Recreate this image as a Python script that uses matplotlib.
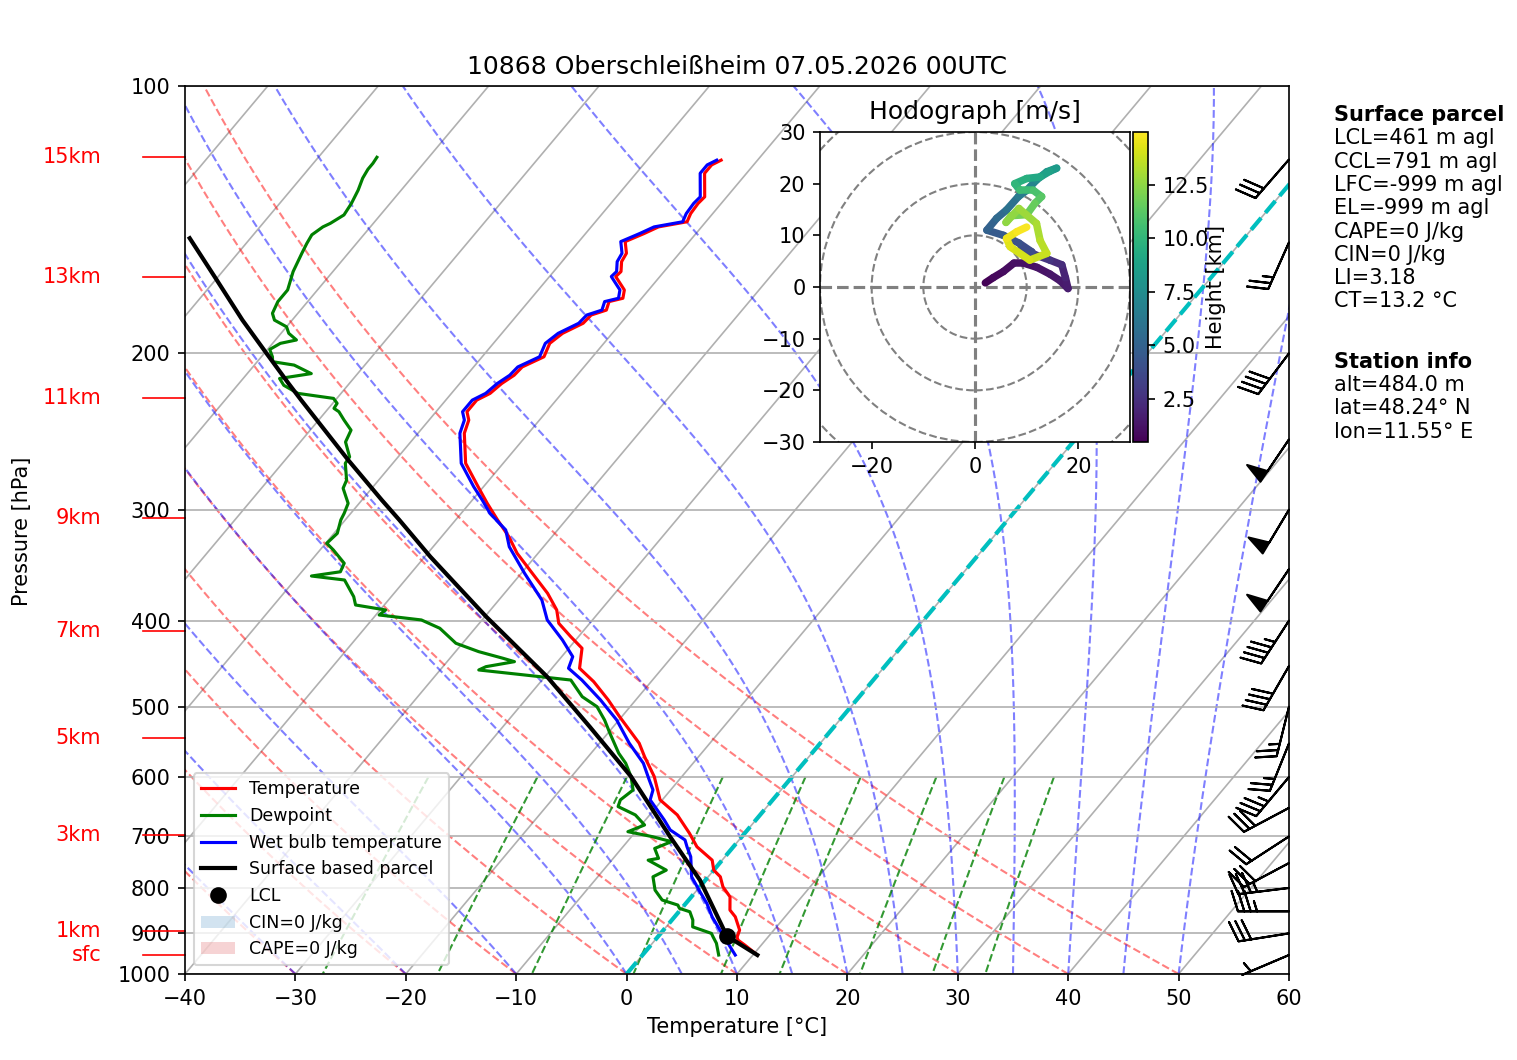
import numpy as np
import matplotlib
matplotlib.use("Agg")
import matplotlib.pyplot as plt
import matplotlib.transforms as mtransforms
from matplotlib.collections import LineCollection
from matplotlib.patches import Patch, Circle
from matplotlib.ticker import FixedLocator, NullLocator, FuncFormatter

# --- sounding (hPa, degC) ---
p_temp = [121.2, 122.7, 125.4, 133.3, 135.6, 139.2, 142.2, 144.1, 146.6, 149.7,
          154.3, 157.7, 161.8, 163.9, 169.7, 173.4, 174.9, 178.8, 181.1, 185.0,
          189.9, 194.9, 201.8, 207.2, 211.7, 216.3, 221.9, 225.8, 232.7, 237.8,
          246.1, 266.0, 282.6, 295.1, 308.1, 321.8, 335.9, 353.8, 372.6, 389.1,
          402.8, 417.0, 429.7, 452.6, 468.6, 491.3, 513.1, 549.7, 569.1, 599.4,
          636.7, 662.0, 694.3, 719.0, 744.4, 763.9, 777.2, 797.7, 818.6, 847.2,
          862.2, 892.4, 908.6, 915.7, 927.6, 952.0]
temp = [-53.3, -53.8, -53.8, -52.0, -52.1, -52.0, -51.7, -53.9, -54.7, -55.8,
        -54.8, -54.6, -53.9, -54.0, -52.2, -51.7, -52.7, -52.3, -53.3, -53.4,
        -54.5, -54.9, -54.4, -55.6, -55.7, -56.2, -56.5, -57.2, -57.2, -56.4,
        -55.8, -53.4, -50.5, -48.4, -46.2, -43.9, -41.9, -39.0, -36.1, -34.0,
        -32.8, -30.7, -28.8, -27.5, -25.2, -22.5, -20.2, -16.4, -14.9, -12.5,
        -10.2, -7.5, -5.0, -3.3, -0.9, 0.0, 1.1, 2.1, 3.5, 4.5,
        5.5, 6.9, 7.2, 7.5, 8.5, 10.4]

p_dew = [120.3, 122.2, 124.1, 127.0, 131.0, 135.6, 139.7, 142.8, 144.1, 147.1,
         150.4, 154.3, 161.8, 169.7, 174.9, 180.3, 183.5, 186.7, 189.9, 193.2,
         194.9, 198.0, 201.8, 204.4, 206.2, 210.8, 213.5, 217.3, 221.9, 224.8,
         227.7, 230.7, 232.7, 237.8, 244.1, 251.7, 261.6, 266.0, 277.9, 283.8,
         295.1, 302.8, 308.1, 319.0, 327.3, 333.0, 344.7, 352.4, 356.3, 360.0,
         375.9, 384.1, 389.1, 394.2, 399.3, 408.0, 424.2, 433.5, 441.0, 444.9,
         450.7, 454.6, 466.6, 487.2, 500.0, 517.6, 535.8, 564.1, 579.0, 599.4,
         620.5, 636.7, 647.8, 662.0, 679.5, 691.4, 700.4, 709.5, 722.1, 740.9,
         744.4, 763.9, 777.2, 804.5, 825.5, 836.3, 843.5, 851.0, 869.5, 884.9,
         900.1, 908.0, 923.4, 952.0]
dewp = [-84.7, -84.6, -84.6, -84.4, -83.9, -83.5, -83.3, -83.9, -84.3, -84.7,
        -84.5, -84.2, -83.6, -82.7, -82.7, -82.3, -81.6, -80.0, -79.3, -78.1,
        -79.3, -79.8, -79.0, -78.6, -76.4, -74.2, -76.7, -75.8, -73.9, -70.3,
        -69.6, -69.5, -68.8, -67.7, -66.3, -65.9, -64.4, -64.3, -62.9, -62.6,
        -61.0, -60.6, -60.4, -59.7, -59.9, -58.8, -56.8, -56.5, -58.8, -55.5,
        -53.4, -52.6, -49.5, -49.7, -45.5, -43.2, -40.6, -37.9, -35.2, -33.9,
        -36.1, -36.5, -27.4, -25.1, -23.0, -21.3, -19.8, -17.5, -16.1, -14.6,
        -13.4, -13.8, -13.5, -11.3, -9.7, -10.7, -8.1, -6.0, -7.0, -5.9,
        -6.7, -4.3, -5.0, -3.8, -2.4, -0.6, -0.2, 1.0, 1.9, 2.4,
        4.6, 5.0, 5.8, 6.9]

p_wet = [121.2, 122.7, 125.4, 133.3, 135.6, 139.2, 142.2, 144.1, 146.6, 149.7,
         154.3, 157.7, 161.8, 163.9, 169.7, 173.4, 174.9, 178.8, 181.1, 185.0,
         189.9, 194.9, 201.8, 207.2, 211.7, 216.3, 221.9, 225.8, 232.7, 237.8,
         246.1, 266.0, 282.6, 292.6, 302.8, 316.2, 330.3, 353.8, 379.2, 399.3,
         420.6, 439.2, 452.6, 466.6, 491.3, 517.6, 549.7, 579.0, 604.6, 620.5,
         636.7, 670.7, 688.3, 706.4, 719.0, 737.9, 777.2, 811.3, 832.6, 862.2,
         884.9, 931.7, 952.0]
wetbulb = [-53.7, -54.2, -54.2, -52.4, -52.5, -52.4, -52.1, -54.3, -55.1, -56.2,
           -55.2, -55.0, -54.3, -54.4, -52.6, -52.1, -53.1, -52.7, -53.7, -53.8,
           -54.9, -55.3, -54.8, -56.0, -56.1, -56.6, -56.9, -57.6, -57.6, -56.8,
           -56.2, -53.8, -50.9, -49.1, -47.4, -44.7, -43.1, -39.7, -36.1, -34.1,
           -31.2, -29.0, -28.5, -26.4, -23.2, -20.2, -17.3, -14.5, -12.7, -11.6,
           -11.1, -8.3, -7.0, -4.9, -4.2, -3.1, -1.5, 0.6, 1.9, 3.4,
           4.7, 7.3, 8.4]

p_parcel = [148.4, 165.3, 183.5, 200.0, 216.3, 225.8, 263.7, 292.6, 308.1, 338.9,
            395.8, 462.6, 527.0, 599.4, 700.4, 783.8, 906.3, 952.0]
t_parcel = [-95.5, -89.9, -84.5, -79.8, -75.5, -73.1, -64.3, -58.2, -55.1, -49.5,
            -39.9, -29.8, -22.1, -14.6, -6.5, -0.5, 6.2, 10.4]
p_lcl, t_lcl = 906.3, 6.2

# wind barbs (kt, direction from)
p_barb = [952, 900, 850, 800, 750, 700, 650, 600, 550, 500,
          450, 400, 350, 300, 250, 200, 150, 121]
spd_kt = [5, 30, 35, 35, 30, 20, 30, 35, 25, 25,
          40, 45, 50, 50, 50, 40, 25, 30]
dir_deg = [247, 261, 270, 263, 242, 237, 242, 220, 202, 194,
           210, 213, 214, 211, 214, 217, 204, 221]

# hodograph (km MSL, m/s)
h_km = [0.48, 0.7, 0.9, 1.0, 1.1, 1.2, 1.3, 1.4, 1.5, 1.8, 2.1, 2.5, 2.9, 3.3,
        3.7, 4.0, 4.4, 4.8, 5.2, 5.7, 6.2, 6.7, 7.2, 7.7, 8.2, 8.6, 9.0, 9.4,
        9.8, 10.2, 10.6, 11.0, 11.4, 11.8, 12.1, 12.4, 12.7, 13.0, 13.3, 13.6,
        13.9, 14.2, 14.5, 14.75, 14.98]
u_ms = [2.0, 3.5, 5.5, 7.5, 9.5, 12.0, 14.5, 16.5, 18.0, 17.5, 16.8, 14.5, 11.5, 9.0,
        11.0, 8.5, 5.5, 2.3, 4.2, 6.1, 8.4, 10.0, 11.9, 13.9, 15.8, 14.5, 12.6, 10.0,
        7.7, 8.7, 11.3, 12.9, 11.6, 10.0, 7.0, 6.0, 8.5, 11.9, 12.6, 13.9,
        10.6, 6.8, 6.1, 8.1, 10.0]
v_ms = [0.8, 1.8, 3.0, 4.6, 4.6, 3.8, 2.5, 1.2, -0.3, 1.8, 4.3, 5.2, 6.3, 7.6,
        6.8, 8.5, 10.0, 11.0, 13.3, 14.9, 17.5, 18.7, 20.7, 22.3, 23.0, 22.4, 21.3, 21.0,
        20.0, 18.7, 18.7, 17.5, 16.2, 14.0, 13.8, 12.5, 15.2, 12.3, 9.0, 6.5,
        5.2, 7.8, 9.4, 10.7, 11.6]

km_labels = ["15km", "13km", "11km", "9km", "7km", "5km", "3km", "1km", "sfc"]
km_press = [120.3, 164.0, 224.5, 306.5, 410.5, 542.0, 698.0, 894.5, 952.0]

parcel_info = ["LCL=461 m agl", "CCL=791 m agl", "LFC=-999 m agl", "EL=-999 m agl",
               "CAPE=0 J/kg", "CIN=0 J/kg", "LI=3.18", "CT=13.2 °C"]
station_info = ["alt=484.0 m", "lat=48.24° N", "lon=11.55° E"]

SKEW = 67.5  # degC shift per decade of pressure
RD, CP, LV, EPS = 287.04749, 1004.6662, 2.50084e6, 0.62196


def skx(t, p):
    return np.asarray(t, float) + SKEW * np.log10(1000.0 / np.asarray(p, float))


def _dtdp(t, p):
    es = 6.112 * np.exp(17.67 * (t - 273.15) / (t - 29.65))
    rs = EPS * es / (p - es)
    return (RD * t + LV * rs) / (CP + LV * LV * rs * EPS / (RD * t * t)) / p


def moist_adiabats(t0, pres):
    t = np.asarray(t0, float) + 273.15
    out = [t.copy()]
    for p0, p1 in zip(pres[:-1], pres[1:]):
        h = p1 - p0
        k1 = _dtdp(t, p0)
        k2 = _dtdp(t + 0.5 * h * k1, p0 + 0.5 * h)
        k3 = _dtdp(t + 0.5 * h * k2, p0 + 0.5 * h)
        k4 = _dtdp(t + h * k3, p1)
        t = t + h * (k1 + 2 * k2 + 2 * k3 + k4) / 6
        out.append(t.copy())
    return np.array(out) - 273.15


W, H = 1517, 1060
fig = plt.figure(figsize=(W / 150, H / 150), dpi=150)
ax = fig.add_axes([185 / W, 1 - 974 / H, 1104 / W, 888 / H])
ax.set_yscale("log")
ax.set_ylim(1000, 100)
ax.set_xlim(-40, 60)
ax.yaxis.set_major_locator(FixedLocator(np.arange(100, 1001, 100)))
ax.yaxis.set_minor_locator(NullLocator())
ax.yaxis.set_major_formatter(FuncFormatter(lambda v, _: f"{v:.0f}"))
ax.set_xticks(np.arange(-40, 61, 10))
ax.yaxis.grid(True, color="#b0b0b0", lw=0.8)

# background lines
pb = np.logspace(3, 2, 181)
for t in np.arange(-120, 61, 10):
    ax.plot(skx([t, t], [1000, 100]), [1000, 100], color="#b0b0b0", lw=0.8, zorder=0.8)
for t0 in np.arange(-40, 51, 10):
    td = (t0 + 273.15) * (pb / 1000.0) ** (RD / CP) - 273.15
    ax.plot(skx(td, pb), pb, color="r", ls="--", lw=1, alpha=0.5, zorder=1)
t0m = np.concatenate((np.arange(-40, 0, 10), np.arange(0, 51, 5)))
tm = moist_adiabats(t0m, pb)
for i in range(len(t0m)):
    ax.plot(skx(tm[:, i], pb), pb, color="b", ls="--", lw=1, alpha=0.5, zorder=1)
pm = np.linspace(600, 1000, 50)
for w in [0.0004, 0.001, 0.002, 0.004, 0.007, 0.01, 0.016, 0.024, 0.032]:
    e = pm * w / (EPS + w)
    le = np.log(e / 6.112)
    tdw = 243.5 * le / (17.67 - le)
    ax.plot(skx(tdw, pm), pm, color="g", ls="--", lw=1, alpha=0.8, zorder=1)
ax.plot(skx([0, 0], [1000, 100]), [1000, 100], color="c", ls="--", lw=2, zorder=1.2)

# profiles
l1, = ax.plot(skx(temp, p_temp), p_temp, color="r", lw=1.5, label="Temperature", zorder=3)
l2, = ax.plot(skx(dewp, p_dew), p_dew, color="g", lw=1.5, label="Dewpoint", zorder=3)
l3, = ax.plot(skx(wetbulb, p_wet), p_wet, color="b", lw=1.5, label="Wet bulb temperature", zorder=3)
l4, = ax.plot(skx(t_parcel, p_parcel), p_parcel, color="k", lw=2, label="Surface based parcel", zorder=3.5)
l5, = ax.plot(skx([t_lcl], [p_lcl]), [p_lcl], "ko", ms=7, label="LCL", zorder=4)
cin = Patch(facecolor="tab:blue", alpha=0.2, label="CIN=0 J/kg")
cape = Patch(facecolor="tab:red", alpha=0.2, label="CAPE=0 J/kg")
ax.legend(handles=[l1, l2, l3, l4, l5, cin, cape], loc="lower left", fontsize="small")

# barbs on right edge
bt = mtransforms.blended_transform_factory(ax.transAxes, ax.transData)
rad = np.deg2rad(dir_deg)
ub = -np.array(spd_kt) * np.sin(rad)
vb = -np.array(spd_kt) * np.cos(rad)
ax.barbs(np.ones(len(p_barb)), p_barb, ub, vb, transform=bt, clip_on=False, length=7, zorder=5)

# height labels
for lab, p in zip(km_labels, km_press):
    ax.plot([-0.038, 0], [p, p], color="r", lw=0.8, transform=bt, clip_on=False)
    ax.text(-0.076, p, lab, color="r", ha="right", va="center", transform=bt)

ax.set_title("10868 Oberschleißheim 07.05.2026 00UTC")
ax.set_xlabel("Temperature [°C]")
fig.text(22 / W, 1 - 531 / H, "Pressure [hPa]", rotation=90, ha="center", va="center")

# hodograph
hax = fig.add_axes([820 / W, 1 - 442 / H, 310 / W, 310 / H])
hax.set_xlim(-30, 30)
hax.set_ylim(-30, 30)
hax.set_xticks([-20, 0, 20])
hax.set_yticks(np.arange(-30, 31, 10))
for r in (10, 20, 30, 40):
    hax.add_patch(Circle((0, 0), r, fill=False, color="gray", ls="--", lw=1))
hax.axhline(0, color="gray", ls="--", lw=1.5)
hax.axvline(0, color="gray", ls="--", lw=1.5)
pts = np.column_stack([u_ms, v_ms])
segs = np.stack([pts[:-1], pts[1:]], axis=1)
hk = np.array(h_km)
lc = LineCollection(segs, cmap="viridis", norm=plt.Normalize(hk.min(), hk.max()),
                    lw=3.6, capstyle="round", joinstyle="round")
lc.set_array(0.5 * (hk[:-1] + hk[1:]))
hax.add_collection(lc)
hax.set_title("Hodograph [m/s]")
cax = fig.add_axes([1133 / W, 1 - 442 / H, 15 / W, 310 / H])
fig.colorbar(lc, cax=cax)
fig.text(1216 / W, 1 - 287 / H, "Height [km]", rotation=90, ha="center", va="center")

# info text
x0 = 1334 / W
fig.text(x0, 1 - 115 / H, "Surface parcel", weight="bold", va="center")
for i, s in enumerate(parcel_info):
    fig.text(x0, 1 - (138.3 + 23.3 * i) / H, s, va="center")
fig.text(x0, 1 - 361.7 / H, "Station info", weight="bold", va="center")
for i, s in enumerate(station_info):
    fig.text(x0, 1 - (385 + 23.3 * i) / H, s, va="center")

fig.savefig("out.png", dpi=150)
